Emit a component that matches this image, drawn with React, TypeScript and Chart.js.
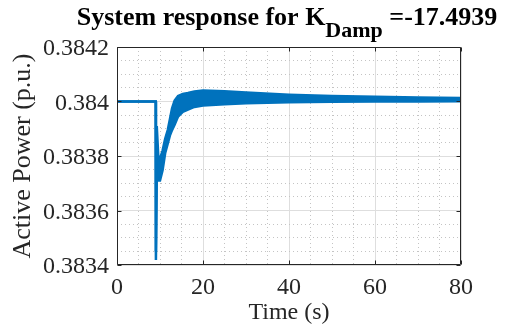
import React, { useEffect, useRef } from 'react';
import { Chart, registerables } from 'chart.js';

Chart.register(...registerables);

// ---- Data ----
const TIME = [0, 9.0, 9.05, 9.25, 9.6, 10.0, 10.6, 11.2, 11.8, 12.3, 12.8, 13.4, 14.2, 15.3, 16.5, 18, 20, 25, 30, 40, 50, 60, 70, 80];
// upper edge of the fast oscillation band
const POWER_UPPER = [0.384, 0.384, 0.38345, 0.38391, 0.3838, 0.38379, 0.38382, 0.383863, 0.383895, 0.383935, 0.383975, 0.384003, 0.38402, 0.384028, 0.384031, 0.384037, 0.38404, 0.384038, 0.384033, 0.384025, 0.38402, 0.384017, 0.384015, 0.384013];
// lower edge of the fast oscillation band
const POWER_LOWER = [0.384, 0.384, 0.383418, 0.38372, 0.38371, 0.38371, 0.383748, 0.38381, 0.383845, 0.383875, 0.383895, 0.383915, 0.383945, 0.383962, 0.38397, 0.38398, 0.383985, 0.38399, 0.383994, 0.383997, 0.383999, 0.384, 0.384, 0.384001];

const X_MAJOR_TICKS = [0, 20, 40, 60, 80];
const Y_MAJOR_TICKS = [0.3834, 0.3836, 0.3838, 0.384, 0.3842];
const MINOR_DIVISIONS = 4;

const TITLE_MAIN = 'System response for K';
const TITLE_SUB = 'Damp';
const TITLE_VALUE = ' =-17.4939';
const X_LABEL = 'Time (s)';
const Y_LABEL = 'Active Power (p.u.)';

// ---- Styling ----
const FONT = '"Liberation Serif", "Times New Roman", serif';
const LINE_COLOR = '#0072BD';
const AXIS_COLOR = '#262626';
const MAJOR_GRID = '#dedede';
const MINOR_GRID = '#c4c4c4';

function withMinor(major: number[], div: number): number[] {
  const out: number[] = [];
  for (let i = 0; i < major.length - 1; i++) {
    const a = major[i];
    const b = major[i + 1];
    for (let k = 0; k < div; k++) out.push(Number((a + ((b - a) * k) / div).toFixed(10)));
  }
  out.push(major[major.length - 1]);
  return out;
}

const X_ALL = withMinor(X_MAJOR_TICKS, MINOR_DIVISIONS);
const Y_ALL = withMinor(Y_MAJOR_TICKS, MINOR_DIVISIONS);

const findMajor = (v: number, major: number[]) => major.find((m) => Math.abs(m - v) < 1e-9);
const isMajor = (v: number, major: number[]) => findMajor(v, major) !== undefined;

const framePlugin = {
  id: 'matlabFrame',
  afterDraw(chart: any) {
    const { ctx, chartArea } = chart;
    const xs = chart.scales.x;
    const ys = chart.scales.y;
    const L = Math.round(chartArea.left) + 0.5;
    const R = Math.round(chartArea.right) - 0.5;
    const T = Math.round(chartArea.top) + 0.5;
    const B = Math.round(chartArea.bottom) - 0.5;
    ctx.save();
    ctx.strokeStyle = AXIS_COLOR;
    ctx.lineWidth = 1;
    ctx.setLineDash([]);
    ctx.beginPath();
    ctx.rect(L, T, R - L, B - T);
    ctx.stroke();
    const tl = 4;
    ctx.beginPath();
    X_MAJOR_TICKS.forEach((v) => {
      const px = Math.round(xs.getPixelForValue(v)) + 0.5;
      ctx.moveTo(px, B);
      ctx.lineTo(px, B - tl);
      ctx.moveTo(px, T);
      ctx.lineTo(px, T + tl);
    });
    Y_MAJOR_TICKS.forEach((v) => {
      const py = Math.round(ys.getPixelForValue(v)) + 0.5;
      ctx.moveTo(L, py);
      ctx.lineTo(L + tl, py);
      ctx.moveTo(R, py);
      ctx.lineTo(R - tl, py);
    });
    ctx.stroke();

    // Title with subscript
    ctx.fillStyle = '#000';
    ctx.textBaseline = 'alphabetic';
    ctx.textAlign = 'left';
    const mainFont = `bold 26px ${FONT}`;
    const subFont = `bold 22px ${FONT}`;
    ctx.font = mainFont;
    const w1 = ctx.measureText(TITLE_MAIN).width;
    const w3 = ctx.measureText(TITLE_VALUE).width;
    ctx.font = subFont;
    const w2 = ctx.measureText(TITLE_SUB).width;
    const center = (chartArea.left + chartArea.right) / 2 - 2;
    let x = center - (w1 + w2 + w3) / 2;
    const baseline = 25;
    ctx.font = mainFont;
    ctx.fillText(TITLE_MAIN, x, baseline);
    x += w1;
    ctx.font = subFont;
    ctx.fillText(TITLE_SUB, x, baseline + 12);
    x += w2;
    ctx.font = mainFont;
    ctx.fillText(TITLE_VALUE, x, baseline);
    ctx.restore();
  },
};

export default function App() {
  const canvasRef = useRef<HTMLCanvasElement | null>(null);

  useEffect(() => {
    document.body.style.margin = '0';
    const canvas = canvasRef.current;
    if (!canvas) return;

    const upper = TIME.map((t, i) => ({ x: t, y: POWER_UPPER[i] }));
    const lower = TIME.map((t, i) => ({ x: t, y: POWER_LOWER[i] }));

    const chart = new Chart(canvas, {
      type: 'line',
      data: {
        datasets: [
          {
            label: 'upper',
            data: upper,
            borderColor: LINE_COLOR,
            backgroundColor: LINE_COLOR,
            borderWidth: 2.5,
            pointRadius: 0,
            tension: 0,
            fill: false,
          },
          {
            label: 'lower',
            data: lower,
            borderColor: LINE_COLOR,
            backgroundColor: LINE_COLOR,
            borderWidth: 2.5,
            pointRadius: 0,
            tension: 0,
            fill: '-1',
          },
        ],
      },
      options: {
        responsive: false,
        animation: false,
        events: [],
        layout: { padding: { left: 0, right: 46, top: 47, bottom: 0 } },
        plugins: {
          legend: { display: false },
          tooltip: { enabled: false },
          title: { display: false },
        },
        scales: {
          x: {
            type: 'linear',
            min: 0,
            max: 80,
            afterBuildTicks: (s: any) => {
              s.ticks = X_ALL.map((v) => ({ value: v }));
            },
            afterFit: (s: any) => {
              s.height = 65;
            },
            ticks: {
              autoSkip: false,
              maxRotation: 0,
              minRotation: 0,
              padding: 8,
              color: AXIS_COLOR,
              font: { family: FONT, size: 24 },
              callback: (v: any) => {
                const m = findMajor(Number(v), X_MAJOR_TICKS);
                return m === undefined ? '' : String(m);
              },
            },
            grid: {
              drawTicks: false,
              lineWidth: 1,
              color: (c: any) => (c.tick && !isMajor(c.tick.value, X_MAJOR_TICKS) ? MINOR_GRID : MAJOR_GRID),
            },
            border: {
              display: false,
              dash: (c: any) => (c.tick && !isMajor(c.tick.value, X_MAJOR_TICKS) ? [1, 3] : []),
            },
            title: {
              display: true,
              text: X_LABEL,
              color: AXIS_COLOR,
              font: { family: FONT, size: 24 },
              padding: { top: 0, bottom: 3 },
            },
          },
          y: {
            type: 'linear',
            min: 0.3834,
            max: 0.3842,
            afterBuildTicks: (s: any) => {
              s.ticks = Y_ALL.map((v) => ({ value: v }));
            },
            afterFit: (s: any) => {
              s.width = 117;
            },
            ticks: {
              autoSkip: false,
              padding: 8,
              labelOffset: 2,
              color: AXIS_COLOR,
              font: { family: FONT, size: 24 },
              callback: (v: any) => {
                const m = findMajor(Number(v), Y_MAJOR_TICKS);
                return m === undefined ? '' : String(m);
              },
            },
            grid: {
              drawTicks: false,
              lineWidth: 1,
              color: (c: any) => (c.tick && !isMajor(c.tick.value, Y_MAJOR_TICKS) ? MINOR_GRID : MAJOR_GRID),
            },
            border: {
              display: false,
              dash: (c: any) => (c.tick && !isMajor(c.tick.value, Y_MAJOR_TICKS) ? [1, 3] : []),
            },
            title: {
              display: true,
              text: Y_LABEL,
              color: AXIS_COLOR,
              font: { family: FONT, size: 26 },
              padding: { top: 8, bottom: 0 },
            },
          },
        },
      },
      plugins: [framePlugin],
    } as any);

    return () => chart.destroy();
  }, []);

  return (
    <div style={{ width: 507, height: 330 }}>
      <canvas ref={canvasRef} width={507} height={330} style={{ display: 'block' }} />
    </div>
  );
}
